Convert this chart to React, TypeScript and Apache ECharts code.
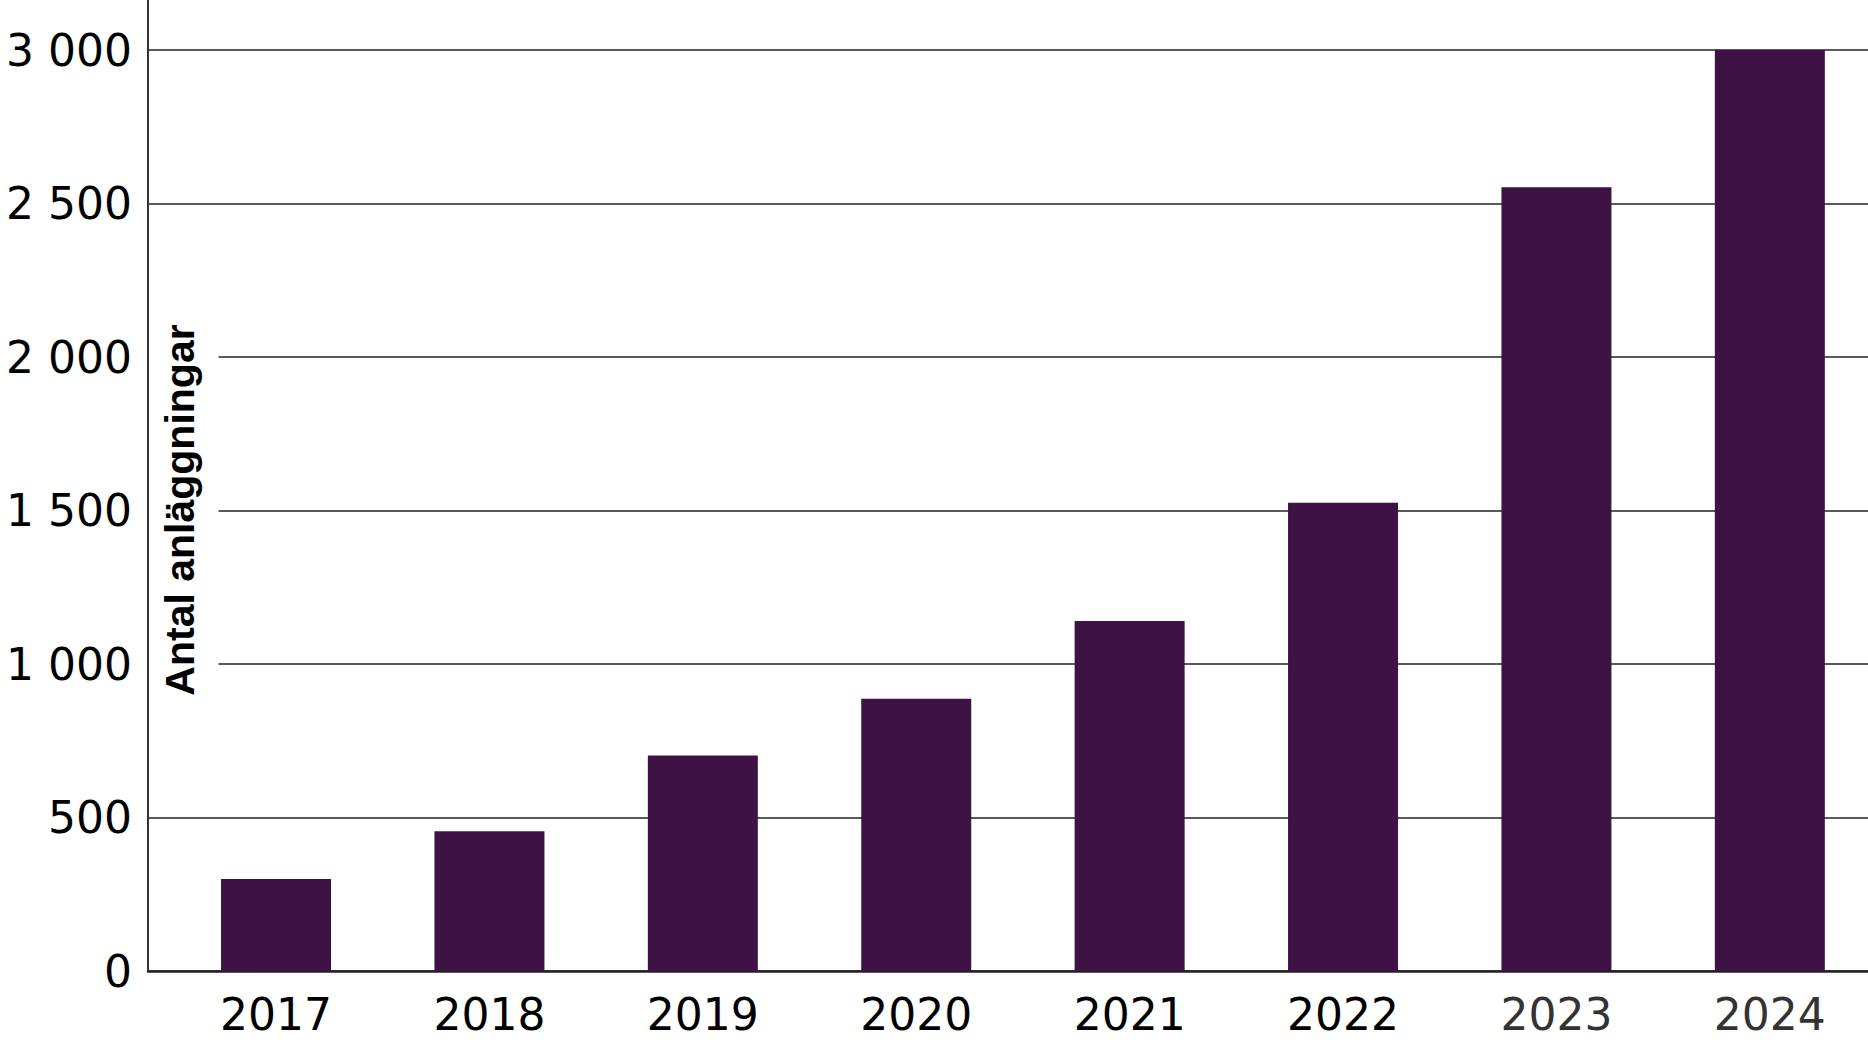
import React, { useEffect, useRef } from "react";
import * as echarts from "echarts";

const years = [2017, 2018, 2019, 2020, 2021, 2022, 2023, 2024];
const installations = [300, 455, 702, 887, 1140, 1525, 2553, 3000];
const yTicks = [0, 500, 1000, 1500, 2000, 2500, 3000];
const axisTitle = "Antal anläggningar";

const fmt = (v: number) =>
  v >= 1000 ? `${Math.floor(v / 1000)} ${String(v % 1000).padStart(3, "0")}` : String(v);

export default function App() {
  const ref = useRef<HTMLDivElement>(null);
  useEffect(() => {
    if (!ref.current) return;
    const chart = echarts.init(ref.current, null, { renderer: "svg" });
    chart.setOption({
      animation: false,
      backgroundColor: "#ffffff",
      grid: { left: 148, right: 0, top: 50, bottom: 75, containLabel: false, outerBoundsMode: "none" },
      xAxis: {
        type: "value",
        min: 2016.4,
        max: 2024.46,
        axisLine: { show: true, onZero: false, lineStyle: { color: "#222", width: 2.5 } },
        axisTick: { show: false },
        splitLine: { show: false },
        axisLabel: {
          customValues: years,
          formatter: (v: number) => String(v),
          fontFamily: "DejaVu Sans",
          fontSize: 44,
          margin: 21,
          color: (v: number) => (v >= 2023 ? "#333333" : "#000000"),
        },
      },
      yAxis: {
        type: "value",
        min: yTicks[0],
        max: yTicks[yTicks.length - 1],
        interval: 500,
        axisLine: { show: true, lineStyle: { color: "#333", width: 2 } },
        axisTick: { show: false },
        splitLine: { show: true, lineStyle: { color: "#222", width: 1.6 } },
        axisLabel: {
          formatter: fmt,
          fontFamily: "DejaVu Sans",
          fontSize: 44,
          margin: 16,
          color: "#000",
        },
      },
      graphic: [
        {
          type: "text",
          z: 5,
          x: 180,
          y: 510,
          rotation: Math.PI / 2,
          style: {
            text: axisTitle,
            font: "bold 41px 'Liberation Sans'",
            fill: "#000",
            align: "center",
            verticalAlign: "middle",
            backgroundColor: "#ffffff",
            padding: [18, 8, 18, 8],
          },
        },
        {
          type: "line",
          z: 6,
          shape: { x1: 148, y1: 0, x2: 148, y2: 971 },
          style: { stroke: "#333", lineWidth: 2 },
        },
      ],
      series: [
        {
          type: "bar",
          data: years.map((y, i) => [y, installations[i]]),
          barWidth: 110,
          itemStyle: { color: "#3e1245" },
        },
      ],
    });
    return () => chart.dispose();
  }, []);
  return (
    <div
      ref={ref}
      style={{ position: "absolute", left: 0, top: 0, width: 1868, height: 1046 }}
    />
  );
}
